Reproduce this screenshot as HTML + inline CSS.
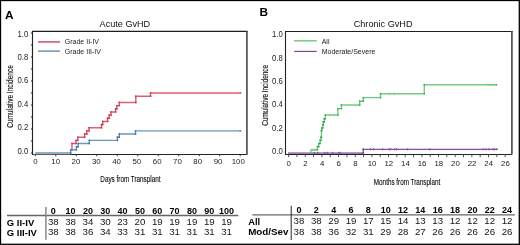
<!DOCTYPE html>
<html><head><meta charset="utf-8"><style>
html,body{margin:0;padding:0;background:#fff;}
body{width:520px;height:245px;overflow:hidden;}
svg{display:block;font-family:"Liberation Sans", sans-serif;} svg{will-change:transform}
</style></head><body>
<svg width="520" height="245" viewBox="0 0 520 245">
<rect x="0.5" y="0.5" width="518.8" height="243.8" fill="none" stroke="#000" stroke-width="1.3"/>
<text x="4.9" y="19.2" font-size="11.8" font-weight="bold" fill="#000">A</text>
<text x="259.4" y="16.3" font-size="11.8" font-weight="bold" fill="#000">B</text>
<text x="124.9" y="26.6" font-size="9.12" fill="#111" text-anchor="middle">Acute GvHD</text>
<text x="383.1" y="26.6" font-size="9.15" fill="#111" text-anchor="middle">Chronic GvHD</text>
<path d="M32.5 31 V154.5 H247" fill="none" stroke="#222" stroke-width="1.15"/>
<path d="M33 154.5 H70.7" fill="none" stroke="#6d5656" stroke-width="1.2"/>
<path d="M32 31.3 H247.8" fill="none" stroke="#1e1e1e" stroke-width="1.2"/>
<path d="M246.9 31 V155" fill="none" stroke="#5a5a5a" stroke-width="1.8"/>
<path d="M30.8 153.00 H32.5" stroke="#333" stroke-width="1"/>
<path d="M30.8 141.00 H32.5" stroke="#333" stroke-width="1"/>
<path d="M30.8 129.00 H32.5" stroke="#333" stroke-width="1"/>
<path d="M30.8 117.00 H32.5" stroke="#333" stroke-width="1"/>
<path d="M30.8 105.00 H32.5" stroke="#333" stroke-width="1"/>
<path d="M30.8 93.00 H32.5" stroke="#333" stroke-width="1"/>
<path d="M30.8 81.00 H32.5" stroke="#333" stroke-width="1"/>
<path d="M30.8 69.00 H32.5" stroke="#333" stroke-width="1"/>
<path d="M30.8 57.00 H32.5" stroke="#333" stroke-width="1"/>
<path d="M30.8 45.00 H32.5" stroke="#333" stroke-width="1"/>
<path d="M30.8 33.00 H32.5" stroke="#333" stroke-width="1"/>
<text transform="translate(28.2 153.60) scale(0.92 1)" font-size="8.4" fill="#222" text-anchor="end">0.0</text>
<text transform="translate(28.2 130.22) scale(0.92 1)" font-size="8.4" fill="#222" text-anchor="end">0.2</text>
<text transform="translate(28.2 106.84) scale(0.92 1)" font-size="8.4" fill="#222" text-anchor="end">0.4</text>
<text transform="translate(28.2 83.46) scale(0.92 1)" font-size="8.4" fill="#222" text-anchor="end">0.6</text>
<text transform="translate(28.2 60.08) scale(0.92 1)" font-size="8.4" fill="#222" text-anchor="end">0.8</text>
<text transform="translate(28.2 36.70) scale(0.92 1)" font-size="8.4" fill="#222" text-anchor="end">1.0</text>
<path d="M35.30 154.4 V156.2" stroke="#333" stroke-width="1"/>
<text x="35.40" y="163.6" font-size="7.85" fill="#222" text-anchor="middle">0</text>
<path d="M55.79 154.4 V156.2" stroke="#333" stroke-width="1"/>
<text x="55.69" y="163.6" font-size="7.85" fill="#222" text-anchor="middle">10</text>
<path d="M76.28 154.4 V156.2" stroke="#333" stroke-width="1"/>
<text x="75.98" y="163.6" font-size="7.85" fill="#222" text-anchor="middle">20</text>
<path d="M96.77 154.4 V156.2" stroke="#333" stroke-width="1"/>
<text x="96.27" y="163.6" font-size="7.85" fill="#222" text-anchor="middle">30</text>
<path d="M117.26 154.4 V156.2" stroke="#333" stroke-width="1"/>
<text x="116.56" y="163.6" font-size="7.85" fill="#222" text-anchor="middle">40</text>
<path d="M137.75 154.4 V156.2" stroke="#333" stroke-width="1"/>
<text x="136.85" y="163.6" font-size="7.85" fill="#222" text-anchor="middle">50</text>
<path d="M158.24 154.4 V156.2" stroke="#333" stroke-width="1"/>
<text x="157.14" y="163.6" font-size="7.85" fill="#222" text-anchor="middle">60</text>
<path d="M178.73 154.4 V156.2" stroke="#333" stroke-width="1"/>
<text x="177.43" y="163.6" font-size="7.85" fill="#222" text-anchor="middle">70</text>
<path d="M199.22 154.4 V156.2" stroke="#333" stroke-width="1"/>
<text x="197.72" y="163.6" font-size="7.85" fill="#222" text-anchor="middle">80</text>
<path d="M219.71 154.4 V156.2" stroke="#333" stroke-width="1"/>
<text x="218.01" y="163.6" font-size="7.85" fill="#222" text-anchor="middle">90</text>
<path d="M240.20 154.4 V156.2" stroke="#333" stroke-width="1"/>
<text x="238.30" y="163.6" font-size="7.85" fill="#222" text-anchor="middle">100</text>
<text transform="translate(12.8 96.4) rotate(-90) scale(0.745 1)" x="0" y="0" font-size="8.8" fill="#111" stroke="#111" stroke-width="0.15" text-anchor="middle">Cumulative Incidence</text>
<text transform="translate(130.4 181.9) scale(0.72 1)" x="0" y="0" font-size="8.8" fill="#111" stroke="#111" stroke-width="0.15" text-anchor="middle">Days from Transplant</text>
<path d="M38 41.9 H60" stroke="#dc6a7c" stroke-width="1.8"/>
<path d="M38 51.1 H60" stroke="#4f86b6" stroke-width="1.3"/>
<text x="64.8" y="44.2" font-size="7" fill="#222">Grade II-IV</text>
<text x="64.8" y="53.7" font-size="7" fill="#222">Grade III-IV</text>
<path d="M70.70 149.84 H72.00 V143.53 H76.00 V140.37 H77.80 V137.21 H84.60 V134.05 H86.80 V130.89 H89.00 V127.74 H101.50 V124.58 H102.70 V121.42 H107.60 V118.26 H109.20 V115.11 H111.00 V111.95 H115.60 V108.79 H116.80 V105.63 H119.20 V102.47 H135.80 V96.16 H150.50 V93.00 H240.40" fill="none" stroke="#de6075" stroke-width="1.45"/>
<rect x="71.30" y="149.14" width="1.40" height="1.40" fill="#c9283f"/>
<rect x="71.30" y="142.83" width="1.40" height="1.40" fill="#c9283f"/>
<rect x="75.30" y="142.83" width="1.40" height="1.40" fill="#c9283f"/>
<rect x="75.30" y="139.67" width="1.40" height="1.40" fill="#c9283f"/>
<rect x="77.10" y="139.67" width="1.40" height="1.40" fill="#c9283f"/>
<rect x="77.10" y="136.51" width="1.40" height="1.40" fill="#c9283f"/>
<rect x="83.90" y="136.51" width="1.40" height="1.40" fill="#c9283f"/>
<rect x="83.90" y="133.35" width="1.40" height="1.40" fill="#c9283f"/>
<rect x="86.10" y="133.35" width="1.40" height="1.40" fill="#c9283f"/>
<rect x="86.10" y="130.19" width="1.40" height="1.40" fill="#c9283f"/>
<rect x="88.30" y="130.19" width="1.40" height="1.40" fill="#c9283f"/>
<rect x="88.30" y="127.04" width="1.40" height="1.40" fill="#c9283f"/>
<rect x="100.80" y="127.04" width="1.40" height="1.40" fill="#c9283f"/>
<rect x="100.80" y="123.88" width="1.40" height="1.40" fill="#c9283f"/>
<rect x="102.00" y="123.88" width="1.40" height="1.40" fill="#c9283f"/>
<rect x="102.00" y="120.72" width="1.40" height="1.40" fill="#c9283f"/>
<rect x="106.90" y="120.72" width="1.40" height="1.40" fill="#c9283f"/>
<rect x="106.90" y="117.56" width="1.40" height="1.40" fill="#c9283f"/>
<rect x="108.50" y="117.56" width="1.40" height="1.40" fill="#c9283f"/>
<rect x="108.50" y="114.41" width="1.40" height="1.40" fill="#c9283f"/>
<rect x="110.30" y="114.41" width="1.40" height="1.40" fill="#c9283f"/>
<rect x="110.30" y="111.25" width="1.40" height="1.40" fill="#c9283f"/>
<rect x="114.90" y="111.25" width="1.40" height="1.40" fill="#c9283f"/>
<rect x="114.90" y="108.09" width="1.40" height="1.40" fill="#c9283f"/>
<rect x="116.10" y="108.09" width="1.40" height="1.40" fill="#c9283f"/>
<rect x="116.10" y="104.93" width="1.40" height="1.40" fill="#c9283f"/>
<rect x="118.50" y="104.93" width="1.40" height="1.40" fill="#c9283f"/>
<rect x="118.50" y="101.77" width="1.40" height="1.40" fill="#c9283f"/>
<rect x="135.10" y="101.77" width="1.40" height="1.40" fill="#c9283f"/>
<rect x="135.10" y="95.46" width="1.40" height="1.40" fill="#c9283f"/>
<rect x="149.80" y="95.46" width="1.40" height="1.40" fill="#c9283f"/>
<rect x="149.80" y="92.30" width="1.40" height="1.40" fill="#c9283f"/>
<rect x="239.70" y="92.30" width="1.40" height="1.40" fill="#c9283f"/>
<path d="M35.20 153.00 H70.70 V149.84 H76.40 V146.68 H78.20 V143.53 H89.30 V140.37 H117.40 V137.21 H119.30 V134.05 H135.50 V130.89 H240.40" fill="none" stroke="#6896bf" stroke-width="1.45"/>
<rect x="70.00" y="152.30" width="1.40" height="1.40" fill="#2d6ca6"/>
<rect x="70.00" y="149.14" width="1.40" height="1.40" fill="#2d6ca6"/>
<rect x="75.70" y="149.14" width="1.40" height="1.40" fill="#2d6ca6"/>
<rect x="75.70" y="145.98" width="1.40" height="1.40" fill="#2d6ca6"/>
<rect x="77.50" y="145.98" width="1.40" height="1.40" fill="#2d6ca6"/>
<rect x="77.50" y="142.83" width="1.40" height="1.40" fill="#2d6ca6"/>
<rect x="88.60" y="142.83" width="1.40" height="1.40" fill="#2d6ca6"/>
<rect x="88.60" y="139.67" width="1.40" height="1.40" fill="#2d6ca6"/>
<rect x="116.70" y="139.67" width="1.40" height="1.40" fill="#2d6ca6"/>
<rect x="116.70" y="136.51" width="1.40" height="1.40" fill="#2d6ca6"/>
<rect x="118.60" y="136.51" width="1.40" height="1.40" fill="#2d6ca6"/>
<rect x="118.60" y="133.35" width="1.40" height="1.40" fill="#2d6ca6"/>
<rect x="134.80" y="133.35" width="1.40" height="1.40" fill="#2d6ca6"/>
<rect x="134.80" y="130.19" width="1.40" height="1.40" fill="#2d6ca6"/>
<rect x="239.70" y="130.19" width="1.40" height="1.40" fill="#2d6ca6"/>
<path d="M285.5 31 V154.5 H512" fill="none" stroke="#222" stroke-width="1.1"/>
<path d="M285 31.5 H512.8" fill="none" stroke="#1e1e1e" stroke-width="1.2"/>
<path d="M511.9 31 V154.6" fill="none" stroke="#5a5a5a" stroke-width="1.8"/>
<text transform="translate(282.8 153.90) scale(0.92 1)" font-size="8.4" fill="#222" text-anchor="end">0.0</text>
<text transform="translate(282.8 130.56) scale(0.92 1)" font-size="8.4" fill="#222" text-anchor="end">0.2</text>
<text transform="translate(282.8 107.22) scale(0.92 1)" font-size="8.4" fill="#222" text-anchor="end">0.4</text>
<text transform="translate(282.8 83.88) scale(0.92 1)" font-size="8.4" fill="#222" text-anchor="end">0.6</text>
<text transform="translate(282.8 60.54) scale(0.92 1)" font-size="8.4" fill="#222" text-anchor="end">0.8</text>
<text transform="translate(282.8 37.20) scale(0.92 1)" font-size="8.4" fill="#222" text-anchor="end">1.0</text>
<path d="M288.60 154.5 V157.2" stroke="#555" stroke-width="1"/>
<text x="288.80" y="165.8" font-size="7.85" fill="#222" text-anchor="middle">0</text>
<path d="M296.93 154.5 V157.2" stroke="#555" stroke-width="1"/>
<path d="M305.26 154.5 V157.2" stroke="#555" stroke-width="1"/>
<text x="305.46" y="165.8" font-size="7.85" fill="#222" text-anchor="middle">2</text>
<path d="M313.59 154.5 V157.2" stroke="#555" stroke-width="1"/>
<path d="M321.92 154.5 V157.2" stroke="#555" stroke-width="1"/>
<text x="322.12" y="165.8" font-size="7.85" fill="#222" text-anchor="middle">4</text>
<path d="M330.25 154.5 V157.2" stroke="#555" stroke-width="1"/>
<path d="M338.58 154.5 V157.2" stroke="#555" stroke-width="1"/>
<text x="338.79" y="165.8" font-size="7.85" fill="#222" text-anchor="middle">6</text>
<path d="M346.91 154.5 V157.2" stroke="#555" stroke-width="1"/>
<path d="M355.24 154.5 V157.2" stroke="#555" stroke-width="1"/>
<text x="355.45" y="165.8" font-size="7.85" fill="#222" text-anchor="middle">8</text>
<path d="M363.57 154.5 V157.2" stroke="#555" stroke-width="1"/>
<path d="M371.90 154.5 V157.2" stroke="#555" stroke-width="1"/>
<text x="372.11" y="165.8" font-size="7.85" fill="#222" text-anchor="middle">10</text>
<path d="M380.23 154.5 V157.2" stroke="#555" stroke-width="1"/>
<path d="M388.56 154.5 V157.2" stroke="#555" stroke-width="1"/>
<text x="388.77" y="165.8" font-size="7.85" fill="#222" text-anchor="middle">12</text>
<path d="M396.89 154.5 V157.2" stroke="#555" stroke-width="1"/>
<path d="M405.22 154.5 V157.2" stroke="#555" stroke-width="1"/>
<text x="405.43" y="165.8" font-size="7.85" fill="#222" text-anchor="middle">14</text>
<path d="M413.55 154.5 V157.2" stroke="#555" stroke-width="1"/>
<path d="M421.88 154.5 V157.2" stroke="#555" stroke-width="1"/>
<text x="422.10" y="165.8" font-size="7.85" fill="#222" text-anchor="middle">16</text>
<path d="M430.21 154.5 V157.2" stroke="#555" stroke-width="1"/>
<path d="M438.54 154.5 V157.2" stroke="#555" stroke-width="1"/>
<text x="438.76" y="165.8" font-size="7.85" fill="#222" text-anchor="middle">18</text>
<path d="M446.87 154.5 V157.2" stroke="#555" stroke-width="1"/>
<path d="M455.20 154.5 V157.2" stroke="#555" stroke-width="1"/>
<text x="455.42" y="165.8" font-size="7.85" fill="#222" text-anchor="middle">20</text>
<path d="M463.53 154.5 V157.2" stroke="#555" stroke-width="1"/>
<path d="M471.86 154.5 V157.2" stroke="#555" stroke-width="1"/>
<text x="472.08" y="165.8" font-size="7.85" fill="#222" text-anchor="middle">22</text>
<path d="M480.19 154.5 V157.2" stroke="#555" stroke-width="1"/>
<path d="M488.52 154.5 V157.2" stroke="#555" stroke-width="1"/>
<text x="488.74" y="165.8" font-size="7.85" fill="#222" text-anchor="middle">24</text>
<path d="M496.85 154.5 V157.2" stroke="#555" stroke-width="1"/>
<path d="M505.18 154.5 V157.2" stroke="#555" stroke-width="1"/>
<text x="505.41" y="165.8" font-size="7.85" fill="#222" text-anchor="middle">26</text>
<text transform="translate(268.0 95.4) rotate(-90) scale(0.725 1)" x="0" y="0" font-size="8.8" fill="#111" stroke="#111" stroke-width="0.15" text-anchor="middle">Cumulative Incidence</text>
<text transform="translate(407 184.6) scale(0.68 1)" x="0" y="0" font-size="9.3" fill="#111" stroke="#111" stroke-width="0.15" text-anchor="middle">Months from Transplant</text>
<path d="M294 40.8 H316.6" stroke="#7ccf86" stroke-width="1.6"/>
<path d="M294.2 51.4 H316.7" stroke="#6e3d8e" stroke-width="1.1"/>
<text x="321.7" y="43.9" font-size="7" fill="#222">All</text>
<text x="321.7" y="53.8" font-size="7" fill="#222">Moderate/Severe</text>
<path d="M310.90 149.80 H317.40 V146.60 H318.70 V143.50 H320.10 V140.30 H321.00 V137.20 H321.40 V130.60 H321.80 V128.00 H322.80 V124.70 H323.30 V121.80 H324.30 V118.80 H325.30 V115.00 H337.90 V108.60 H341.40 V105.00 H359.70 V101.20 H363.30 V97.60 H380.50 V93.70 H424.30 V84.80 H496.50" fill="none" stroke="#76cb83" stroke-width="1.45"/>
<rect x="316.70" y="149.10" width="1.40" height="1.40" fill="#2ea842"/>
<rect x="316.70" y="145.90" width="1.40" height="1.40" fill="#2ea842"/>
<rect x="318.00" y="145.90" width="1.40" height="1.40" fill="#2ea842"/>
<rect x="318.00" y="142.80" width="1.40" height="1.40" fill="#2ea842"/>
<rect x="319.40" y="142.80" width="1.40" height="1.40" fill="#2ea842"/>
<rect x="319.40" y="139.60" width="1.40" height="1.40" fill="#2ea842"/>
<rect x="320.30" y="139.60" width="1.40" height="1.40" fill="#2ea842"/>
<rect x="320.30" y="136.50" width="1.40" height="1.40" fill="#2ea842"/>
<rect x="320.70" y="136.50" width="1.40" height="1.40" fill="#2ea842"/>
<rect x="320.70" y="129.90" width="1.40" height="1.40" fill="#2ea842"/>
<rect x="321.10" y="129.90" width="1.40" height="1.40" fill="#2ea842"/>
<rect x="321.10" y="127.30" width="1.40" height="1.40" fill="#2ea842"/>
<rect x="322.10" y="127.30" width="1.40" height="1.40" fill="#2ea842"/>
<rect x="322.10" y="124.00" width="1.40" height="1.40" fill="#2ea842"/>
<rect x="322.60" y="124.00" width="1.40" height="1.40" fill="#2ea842"/>
<rect x="322.60" y="121.10" width="1.40" height="1.40" fill="#2ea842"/>
<rect x="323.60" y="121.10" width="1.40" height="1.40" fill="#2ea842"/>
<rect x="323.60" y="118.10" width="1.40" height="1.40" fill="#2ea842"/>
<rect x="324.60" y="118.10" width="1.40" height="1.40" fill="#2ea842"/>
<rect x="324.60" y="114.30" width="1.40" height="1.40" fill="#2ea842"/>
<rect x="337.20" y="114.30" width="1.40" height="1.40" fill="#2ea842"/>
<rect x="337.20" y="107.90" width="1.40" height="1.40" fill="#2ea842"/>
<rect x="340.70" y="107.90" width="1.40" height="1.40" fill="#2ea842"/>
<rect x="340.70" y="104.30" width="1.40" height="1.40" fill="#2ea842"/>
<rect x="359.00" y="104.30" width="1.40" height="1.40" fill="#2ea842"/>
<rect x="359.00" y="100.50" width="1.40" height="1.40" fill="#2ea842"/>
<rect x="362.60" y="100.50" width="1.40" height="1.40" fill="#2ea842"/>
<rect x="362.60" y="96.90" width="1.40" height="1.40" fill="#2ea842"/>
<rect x="379.80" y="96.90" width="1.40" height="1.40" fill="#2ea842"/>
<rect x="379.80" y="93.00" width="1.40" height="1.40" fill="#2ea842"/>
<rect x="423.60" y="93.00" width="1.40" height="1.40" fill="#2ea842"/>
<rect x="423.60" y="84.10" width="1.40" height="1.40" fill="#2ea842"/>
<rect x="495.80" y="84.10" width="1.40" height="1.40" fill="#2ea842"/>
<path d="M310.9 153.1 V149.8" stroke="#76cb83" stroke-width="1.45"/>
<path d="M288 153.1 H363.2" stroke="#9c7db5" stroke-width="1.7"/>
<path d="M363.20 153.10 H363.20 V149.30 H497.00" fill="none" stroke="#84529f" stroke-width="1.25"/>
<rect x="362.50" y="152.40" width="1.40" height="1.40" fill="#5e2a80"/>
<rect x="362.50" y="148.60" width="1.40" height="1.40" fill="#5e2a80"/>
<rect x="496.30" y="148.60" width="1.40" height="1.40" fill="#5e2a80"/>
<path d="M314.2 151.8 V154.2 M313.3 153.0 H315.1" stroke="#84529f" stroke-width="0.8"/>
<path d="M317.6 151.8 V154.2 M316.7 153.0 H318.5" stroke="#84529f" stroke-width="0.8"/>
<path d="M324.8 151.8 V154.2 M323.9 153.0 H325.7" stroke="#84529f" stroke-width="0.8"/>
<path d="M327.5 151.8 V154.2 M326.6 153.0 H328.4" stroke="#84529f" stroke-width="0.8"/>
<path d="M332.5 151.8 V154.2 M331.6 153.0 H333.4" stroke="#84529f" stroke-width="0.8"/>
<path d="M338.8 151.8 V154.2 M337.9 153.0 H339.7" stroke="#84529f" stroke-width="0.8"/>
<path d="M340.2 151.8 V154.2 M339.3 153.0 H341.1" stroke="#84529f" stroke-width="0.8"/>
<path d="M370.5 148.1 V150.5 M369.6 149.3 H371.4" stroke="#84529f" stroke-width="0.8"/>
<path d="M373.6 148.1 V150.5 M372.7 149.3 H374.5" stroke="#84529f" stroke-width="0.8"/>
<path d="M382.5 148.1 V150.5 M381.6 149.3 H383.4" stroke="#84529f" stroke-width="0.8"/>
<path d="M389.0 148.1 V150.5 M388.1 149.3 H389.9" stroke="#84529f" stroke-width="0.8"/>
<path d="M390.5 148.1 V150.5 M389.6 149.3 H391.4" stroke="#84529f" stroke-width="0.8"/>
<path d="M394.7 148.1 V150.5 M393.8 149.3 H395.6" stroke="#84529f" stroke-width="0.8"/>
<path d="M396.6 148.1 V150.5 M395.7 149.3 H397.5" stroke="#84529f" stroke-width="0.8"/>
<path d="M407.6 148.1 V150.5 M406.7 149.3 H408.5" stroke="#84529f" stroke-width="0.8"/>
<path d="M430.0 148.1 V150.5 M429.1 149.3 H430.9" stroke="#84529f" stroke-width="0.8"/>
<path d="M483.0 148.1 V150.5 M482.1 149.3 H483.9" stroke="#84529f" stroke-width="0.8"/>
<path d="M486.0 148.1 V150.5 M485.1 149.3 H486.9" stroke="#84529f" stroke-width="0.8"/>
<path d="M489.0 148.1 V150.5 M488.1 149.3 H489.9" stroke="#84529f" stroke-width="0.8"/>
<path d="M493.0 148.1 V150.5 M492.1 149.3 H493.9" stroke="#84529f" stroke-width="0.8"/>
<path d="M494.5 148.1 V150.5 M493.6 149.3 H495.4" stroke="#84529f" stroke-width="0.8"/>
<path d="M312.8 148.6 V151.0 M311.9 149.8 H313.7" stroke="#76cb83" stroke-width="0.8"/>
<path d="M315.2 148.6 V151.0 M314.3 149.8 H316.1" stroke="#76cb83" stroke-width="0.8"/>
<path d="M330.0 113.8 V116.2 M329.1 115.0 H330.9" stroke="#76cb83" stroke-width="0.8"/>
<path d="M333.5 113.8 V116.2 M332.6 115.0 H334.4" stroke="#76cb83" stroke-width="0.8"/>
<path d="M389.4 92.5 V94.9 M388.5 93.7 H390.3" stroke="#76cb83" stroke-width="0.8"/>
<path d="M394.3 92.5 V94.9 M393.4 93.7 H395.2" stroke="#76cb83" stroke-width="0.8"/>
<path d="M488.0 83.6 V86.0 M487.1 84.8 H488.9" stroke="#76cb83" stroke-width="0.8"/>
<path d="M491.0 83.6 V86.0 M490.1 84.8 H491.9" stroke="#76cb83" stroke-width="0.8"/>
<path d="M494.0 83.6 V86.0 M493.1 84.8 H494.9" stroke="#76cb83" stroke-width="0.8"/>
<path d="M7 215.5 H238.3" stroke="#666" stroke-width="1.3"/>
<path d="M45.9 207 V239.8" stroke="#888" stroke-width="1.5"/>
<text x="6.8" y="225.6" font-size="9.5" font-weight="bold" fill="#000">G II-IV</text>
<text x="6.8" y="235.9" font-size="9.5" font-weight="bold" fill="#000">G III-IV</text>
<text x="53.30" y="213.6" font-size="9" font-weight="bold" fill="#000" text-anchor="middle">0</text>
<text x="53.30" y="224.7" font-size="9.7" fill="#151515" text-anchor="middle">38</text>
<text x="53.30" y="235.4" font-size="9.7" fill="#151515" text-anchor="middle">38</text>
<text x="70.63" y="213.6" font-size="9" font-weight="bold" fill="#000" text-anchor="middle">10</text>
<text x="70.63" y="224.7" font-size="9.7" fill="#151515" text-anchor="middle">38</text>
<text x="70.63" y="235.4" font-size="9.7" fill="#151515" text-anchor="middle">38</text>
<text x="87.96" y="213.6" font-size="9" font-weight="bold" fill="#000" text-anchor="middle">20</text>
<text x="87.96" y="224.7" font-size="9.7" fill="#151515" text-anchor="middle">34</text>
<text x="87.96" y="235.4" font-size="9.7" fill="#151515" text-anchor="middle">36</text>
<text x="105.29" y="213.6" font-size="9" font-weight="bold" fill="#000" text-anchor="middle">30</text>
<text x="105.29" y="224.7" font-size="9.7" fill="#151515" text-anchor="middle">30</text>
<text x="105.29" y="235.4" font-size="9.7" fill="#151515" text-anchor="middle">34</text>
<text x="122.62" y="213.6" font-size="9" font-weight="bold" fill="#000" text-anchor="middle">40</text>
<text x="122.62" y="224.7" font-size="9.7" fill="#151515" text-anchor="middle">23</text>
<text x="122.62" y="235.4" font-size="9.7" fill="#151515" text-anchor="middle">33</text>
<text x="139.95" y="213.6" font-size="9" font-weight="bold" fill="#000" text-anchor="middle">50</text>
<text x="139.95" y="224.7" font-size="9.7" fill="#151515" text-anchor="middle">20</text>
<text x="139.95" y="235.4" font-size="9.7" fill="#151515" text-anchor="middle">31</text>
<text x="157.28" y="213.6" font-size="9" font-weight="bold" fill="#000" text-anchor="middle">60</text>
<text x="157.28" y="224.7" font-size="9.7" fill="#151515" text-anchor="middle">19</text>
<text x="157.28" y="235.4" font-size="9.7" fill="#151515" text-anchor="middle">31</text>
<text x="174.61" y="213.6" font-size="9" font-weight="bold" fill="#000" text-anchor="middle">70</text>
<text x="174.61" y="224.7" font-size="9.7" fill="#151515" text-anchor="middle">19</text>
<text x="174.61" y="235.4" font-size="9.7" fill="#151515" text-anchor="middle">31</text>
<text x="191.94" y="213.6" font-size="9" font-weight="bold" fill="#000" text-anchor="middle">80</text>
<text x="191.94" y="224.7" font-size="9.7" fill="#151515" text-anchor="middle">19</text>
<text x="191.94" y="235.4" font-size="9.7" fill="#151515" text-anchor="middle">31</text>
<text x="209.27" y="213.6" font-size="9" font-weight="bold" fill="#000" text-anchor="middle">90</text>
<text x="209.27" y="224.7" font-size="9.7" fill="#151515" text-anchor="middle">19</text>
<text x="209.27" y="235.4" font-size="9.7" fill="#151515" text-anchor="middle">31</text>
<text x="226.60" y="213.6" font-size="9" font-weight="bold" fill="#000" text-anchor="middle">100</text>
<text x="226.60" y="224.7" font-size="9.7" fill="#151515" text-anchor="middle">19</text>
<text x="226.60" y="235.4" font-size="9.7" fill="#151515" text-anchor="middle">31</text>
<path d="M252.3 214.9 H514.9" stroke="#666" stroke-width="1.3"/>
<path d="M291.2 205.8 V240" stroke="#2e2e2e" stroke-width="1.05"/>
<text x="248.2" y="224.9" font-size="9.3" font-weight="bold" fill="#000">All</text>
<text x="248.2" y="235.3" font-size="9.3" font-weight="bold" fill="#000" textLength="40.3" lengthAdjust="spacingAndGlyphs">Mod/Sev</text>
<text x="299.00" y="212.8" font-size="9" font-weight="bold" fill="#000" text-anchor="middle">0</text>
<text x="299.00" y="224.0" font-size="9.7" fill="#151515" text-anchor="middle">38</text>
<text x="299.00" y="235.4" font-size="9.7" fill="#151515" text-anchor="middle">38</text>
<text x="316.34" y="212.8" font-size="9" font-weight="bold" fill="#000" text-anchor="middle">2</text>
<text x="316.34" y="224.0" font-size="9.7" fill="#151515" text-anchor="middle">38</text>
<text x="316.34" y="235.4" font-size="9.7" fill="#151515" text-anchor="middle">38</text>
<text x="333.68" y="212.8" font-size="9" font-weight="bold" fill="#000" text-anchor="middle">4</text>
<text x="333.68" y="224.0" font-size="9.7" fill="#151515" text-anchor="middle">29</text>
<text x="333.68" y="235.4" font-size="9.7" fill="#151515" text-anchor="middle">36</text>
<text x="351.02" y="212.8" font-size="9" font-weight="bold" fill="#000" text-anchor="middle">6</text>
<text x="351.02" y="224.0" font-size="9.7" fill="#151515" text-anchor="middle">19</text>
<text x="351.02" y="235.4" font-size="9.7" fill="#151515" text-anchor="middle">32</text>
<text x="368.36" y="212.8" font-size="9" font-weight="bold" fill="#000" text-anchor="middle">8</text>
<text x="368.36" y="224.0" font-size="9.7" fill="#151515" text-anchor="middle">17</text>
<text x="368.36" y="235.4" font-size="9.7" fill="#151515" text-anchor="middle">31</text>
<text x="385.70" y="212.8" font-size="9" font-weight="bold" fill="#000" text-anchor="middle">10</text>
<text x="385.70" y="224.0" font-size="9.7" fill="#151515" text-anchor="middle">15</text>
<text x="385.70" y="235.4" font-size="9.7" fill="#151515" text-anchor="middle">29</text>
<text x="403.04" y="212.8" font-size="9" font-weight="bold" fill="#000" text-anchor="middle">12</text>
<text x="403.04" y="224.0" font-size="9.7" fill="#151515" text-anchor="middle">14</text>
<text x="403.04" y="235.4" font-size="9.7" fill="#151515" text-anchor="middle">28</text>
<text x="420.38" y="212.8" font-size="9" font-weight="bold" fill="#000" text-anchor="middle">14</text>
<text x="420.38" y="224.0" font-size="9.7" fill="#151515" text-anchor="middle">13</text>
<text x="420.38" y="235.4" font-size="9.7" fill="#151515" text-anchor="middle">27</text>
<text x="437.72" y="212.8" font-size="9" font-weight="bold" fill="#000" text-anchor="middle">16</text>
<text x="437.72" y="224.0" font-size="9.7" fill="#151515" text-anchor="middle">13</text>
<text x="437.72" y="235.4" font-size="9.7" fill="#151515" text-anchor="middle">26</text>
<text x="455.06" y="212.8" font-size="9" font-weight="bold" fill="#000" text-anchor="middle">18</text>
<text x="455.06" y="224.0" font-size="9.7" fill="#151515" text-anchor="middle">12</text>
<text x="455.06" y="235.4" font-size="9.7" fill="#151515" text-anchor="middle">26</text>
<text x="472.40" y="212.8" font-size="9" font-weight="bold" fill="#000" text-anchor="middle">20</text>
<text x="472.40" y="224.0" font-size="9.7" fill="#151515" text-anchor="middle">12</text>
<text x="472.40" y="235.4" font-size="9.7" fill="#151515" text-anchor="middle">26</text>
<text x="489.74" y="212.8" font-size="9" font-weight="bold" fill="#000" text-anchor="middle">22</text>
<text x="489.74" y="224.0" font-size="9.7" fill="#151515" text-anchor="middle">12</text>
<text x="489.74" y="235.4" font-size="9.7" fill="#151515" text-anchor="middle">26</text>
<text x="507.08" y="212.8" font-size="9" font-weight="bold" fill="#000" text-anchor="middle">24</text>
<text x="507.08" y="224.0" font-size="9.7" fill="#151515" text-anchor="middle">12</text>
<text x="507.08" y="235.4" font-size="9.7" fill="#151515" text-anchor="middle">26</text>
</svg>
</body></html>
